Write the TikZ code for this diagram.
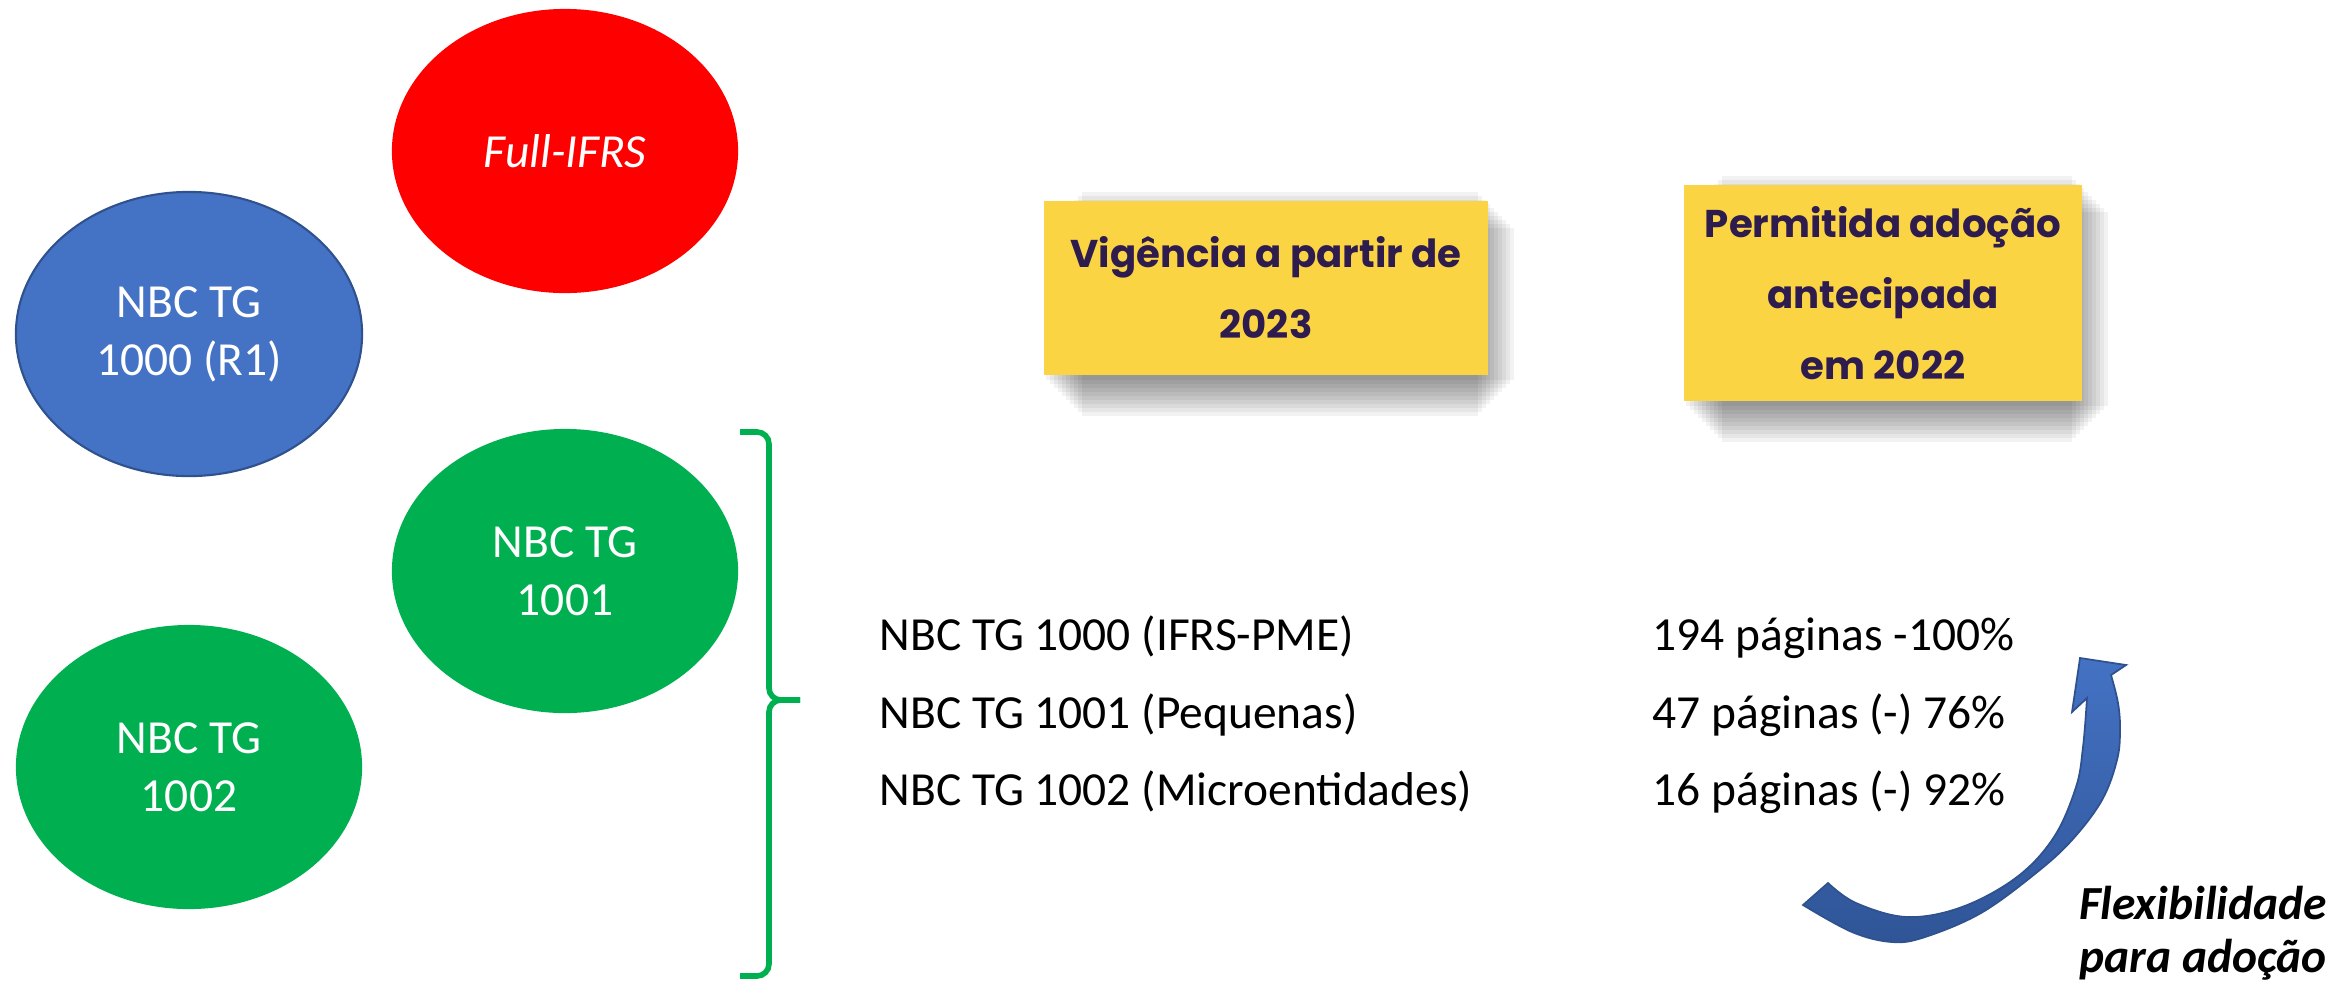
\documentclass[tikz,border=0pt]{standalone}
\usepackage{fontspec}
\setmainfont{Carlito}
\newfontfamily\boxfont{Poppins}
\usetikzlibrary{shapes.geometric,backgrounds}
\definecolor{fullred}{HTML}{FF0000}
\definecolor{nbcblue}{HTML}{4472C4}
\definecolor{nbcblueline}{HTML}{2F528F}
\definecolor{nbcgreen}{HTML}{00B050}
\definecolor{noteyellow}{HTML}{FAD443}
\definecolor{notepurple}{HTML}{2E1C4F}
\definecolor{arrowdark}{HTML}{2F5597}
\begin{document}
\begin{tikzpicture}[x=0.01cm, y=-0.01cm,
  every node/.style={font=\fontsize{13.5}{16.5}\selectfont},
  norma/.style={ellipse, minimum width=3.46cm, minimum height=2.84cm, inner sep=0pt, text=white, align=center},
  nota/.style={fill=noteyellow, text=notepurple, align=center, inner sep=0pt,
    font=\boxfont\bfseries\fontsize{11}{20.2}\selectfont},
  linha/.style={anchor=base west, inner sep=0pt},
  chave/.style={draw=nbcgreen, line width=1.6pt, rounded corners=0.12cm}]
  \useasboundingbox (0,0) rectangle (2336,984);
  % ellipses
  \node[norma, fill=fullred] (full) at (565,151) {\itshape Full-IFRS};
  \node[norma, fill=nbcblue, draw=nbcblueline, line width=0.6pt] (tg1000) at (189,334) {NBC TG\\1000 (R1)};
  \node[norma, fill=nbcgreen] (tg1001) at (565,571) {NBC TG\\1001};
  \node[norma, fill=nbcgreen] (tg1002) at (189,767) {NBC TG\\1002};
  % brace
  \draw[chave] (740,432) -- (769,432) -- (769,700) -- (800,700);
  \draw[chave] (800,700) -- (769,700) -- (769,976) -- (740,976);
  % yellow notes
  \node[nota, minimum width=4.43cm, minimum height=1.74cm] (vig) at (1266,288) {Vigência a partir de\\2023};
  \node[nota, minimum width=3.97cm, minimum height=2.16cm] (perm) at (1883,293) {Permitida adoção\\antecipada\\em 2022};
  \begin{scope}[on background layer]
    \foreach \n in {vig,perm}
      \foreach \e in {-12,-8,...,24}
        \fill[black, opacity=0.05] ([shift={(14-\e,16-\e)}]\n.north east) rectangle ([shift={(14+\e,16+\e)}]\n.south west);
  \end{scope}
  % list
  \node[linha] (n1000) at (879,650) {NBC TG 1000 (IFRS-PME)};
  \node[linha] (n1001) at (879,728) {NBC TG 1001 (Pequenas)};
  \node[linha] (n1002) at (879,805) {NBC TG 1002 (Microentidades)};
  \node[linha] (p1000) at (1652,650) {194 páginas -100\%};
  \node[linha] (p1001) at (1652,728) {47 páginas (-) 76\%};
  \node[linha] (p1002) at (1652,805) {16 páginas (-) 92\%};
  % curved arrow
  \shadedraw[top color=nbcblue, bottom color=arrowdark, draw=nbcblueline, line width=0.5pt]
    (2111,675) -- plot[smooth, tension=0.6] coordinates {(2111,675) (2118,703) (2120,730) (2117,760) (2102,800) (2072,840) (2036,873) (1981,913) (1925,937) (1892,942) (1852,932) (1803,905)}
    -- plot[smooth, tension=0.6] coordinates {(1828,883) (1856,903) (1907,917) (1962,907) (2017,877) (2054,837) (2076,787) (2083,747) (2087,698)}
    -- (2072,712) -- (2080,658) -- (2126,665) -- cycle;
  \node[font=\bfseries\itshape\fontsize{13.5}{15.2}\selectfont, align=center, inner sep=0pt] (flex) at (2203,933) {Flexibilidade\\para adoção};
\end{tikzpicture}
\end{document}
